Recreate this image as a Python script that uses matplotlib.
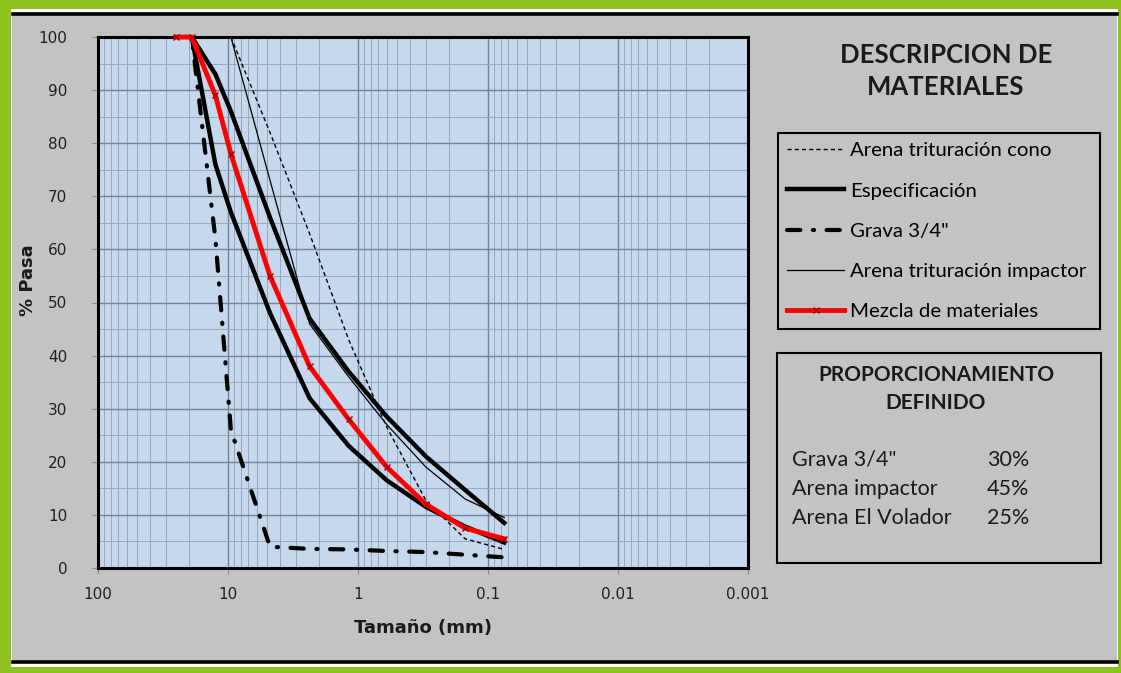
import numpy as np
import matplotlib.pyplot as plt
from matplotlib.patches import Rectangle
from matplotlib.lines import Line2D
from matplotlib.ticker import LogLocator, MultipleLocator, NullFormatter

W, H = 1121, 673
nan = np.nan

# sieve openings (mm) and % passing for each material
sieve_mm = [25, 19, 12.5, 9.5, 4.75, 2.36, 1.18, 0.6, 0.3, 0.15, 0.075]
spec_upper = [nan, 100, 93, 86, 66, 47, 37, 28.5, 21, 14.7, 8.5]
spec_lower = [nan, 100, 76, 67, 48, 32, 23, 16.5, 11.5, 7.8, 4.8]
grava = [100, 100, 62, 26, 4, 3.6, 3.5, 3.2, 3.0, 2.5, 2.0]
arena_impactor = [nan, nan, nan, 100, 73, 46, 36, 27, 19, 13, 9.5]
arena_cono = [nan, nan, nan, 100, 82, 63, 43, 26.5, 12.7, 5.5, 3.5]
mezcla = [100, 100, 89, 78, 55, 38, 28, 19, 12, 7.5, 5.5]

materiales = ['Grava 3/4"', "Arena impactor", "Arena El Volador"]
proporciones = [30, 45, 25]

x_ticks = [100, 10, 1, 0.1, 0.01, 0.001]
x_tick_labels = ["100", "10", "1", "0.1", "0.01", "0.001"]

GRAY = "#C3C3C3"


def fx(x):
    return x / W


def fy(y):
    return 1 - y / H


fig = plt.figure(figsize=(W / 100, H / 100), dpi=100, facecolor="#8DC21F")

# panel behind the chart
fig.patches.append(Rectangle((fx(11), fy(667)), fx(1118) - fx(11), fy(9) - fy(667),
                             transform=fig.transFigure, facecolor="white",
                             edgecolor="none", zorder=-5))
fig.patches.append(Rectangle((fx(12), fy(663)), fx(1117) - fx(12), fy(12) - fy(663),
                             transform=fig.transFigure, facecolor=GRAY,
                             edgecolor="none", zorder=-4))
for yy in (13.5, 661.5):
    fig.lines.append(Line2D([fx(13), fx(1117)], [fy(yy), fy(yy)],
                            transform=fig.transFigure, color="black", lw=2.6,
                            zorder=-3))

ax = fig.add_axes([fx(98), fy(568), fx(748) - fx(98), fy(37) - fy(568)])
ax.set_facecolor("#C5D8EE")
ax.set_xscale("log")
ax.set_xlim(100, 0.001)
ax.set_ylim(0, 100)

ax.set_xticks(x_ticks)
ax.set_xticklabels(x_tick_labels)
ax.xaxis.set_minor_locator(LogLocator(base=10, subs=range(2, 10)))
ax.xaxis.set_minor_formatter(NullFormatter())
ax.set_yticks(range(0, 101, 10))
ax.yaxis.set_minor_locator(MultipleLocator(5))

ax.grid(which="major", color="#72829A", lw=1.0)
ax.grid(which="minor", color="#97A7BD", lw=0.7)
ax.set_axisbelow(True)
ax.tick_params(which="major", length=4, color="#8A8A8A", labelsize=11,
               labelcolor="#202020")
ax.tick_params(axis="x", which="major", pad=10)
ax.tick_params(axis="y", which="major", pad=18)
ax.tick_params(which="minor", length=0)
for s in ax.spines.values():
    s.set_linewidth(2.2)
    s.set_color("black")

l_cono, = ax.plot(sieve_mm, arena_cono, color="black", lw=1.0,
                  linestyle=(0, (3, 2.2)))
l_spec, = ax.plot(sieve_mm, spec_upper, color="black", lw=3.2)
ax.plot(sieve_mm, spec_lower, color="black", lw=3.2)
l_grava, = ax.plot(sieve_mm, grava, color="black", lw=3.0,
                   linestyle=(0, (3.2, 3.0, 0.3, 3.0)), dash_capstyle="round")
l_imp, = ax.plot(sieve_mm, arena_impactor, color="black", lw=0.9)
l_mez, = ax.plot(sieve_mm, mezcla, color="#FF0000", lw=3.5, marker="x", ms=4,
                 mec="#A00000", mew=1.0, zorder=4, clip_on=False)

fig.text(fx(423), fy(628), "Tamaño (mm)", ha="center", va="center",
         fontsize=13, fontweight="bold", color="#1A1A1A")
fig.text(fx(28), fy(280), "% Pasa", ha="center", va="center", rotation=90,
         fontsize=13, fontweight="bold", color="#1A1A1A")

# right side panel
fig.text(fx(946), fy(71), "DESCRIPCION DE\nMATERIALES", ha="center", va="center",
         family="Lato", fontweight="bold", fontsize=18.5, linespacing=1.4,
         color="#1A1A1A")

leg = fig.legend([l_cono, l_spec, l_grava, l_imp, l_mez],
                 ["Arena trituración cono", "Especificación", 'Grava 3/4"',
                  "Arena trituración impactor", "Mezcla de materiales"],
                 loc="upper left",
                 bbox_to_anchor=(fx(778), fy(325), fx(1100) - fx(778), fy(133) - fy(325)),
                 mode="expand", borderaxespad=0, borderpad=0.45, labelspacing=1.12,
                 handlelength=2.8, handletextpad=0.3, fancybox=False,
                 framealpha=1, facecolor=GRAY, edgecolor="black",
                 prop={"family": "Lato", "size": 14.7})
leg.get_frame().set_linewidth(1.5)

fig.patches.append(Rectangle((fx(777), fy(563)), fx(1101) - fx(777), fy(353) - fy(563),
                             transform=fig.transFigure, facecolor="none",
                             edgecolor="black", lw=1.5, zorder=3))
fig.text(fx(936), fy(389), "PROPORCIONAMIENTO\nDEFINIDO", ha="center", va="center",
         family="Lato", fontweight="bold", fontsize=15, linespacing=1.45,
         color="#1A1A1A")
for i, (name, pct) in enumerate(zip(materiales, proporciones)):
    y = 460 + i * 29
    fig.text(fx(792), fy(y), name, ha="left", va="center", family="Lato",
             fontsize=15.5, color="#1A1A1A")
    fig.text(fx(987), fy(y), f"{pct}%", ha="left", va="center", family="Lato",
             fontsize=15.5, color="#1A1A1A")

fig.savefig("out.png", dpi=100, facecolor=fig.get_facecolor())
